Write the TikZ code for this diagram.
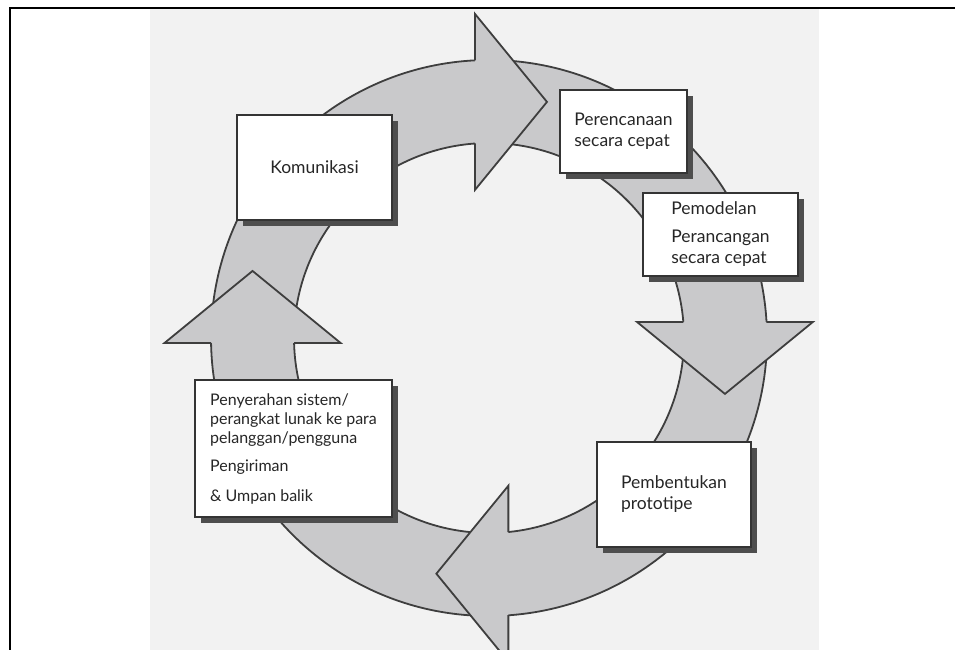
\documentclass[tikz,border=0pt]{standalone}
\usepackage{fontspec}
\setmainfont{Lato}
\usetikzlibrary{calc,shadows}
\definecolor{scangrey}{RGB}{242,242,242}
\definecolor{ringgrey}{RGB}{201,201,203}
\definecolor{ringline}{RGB}{62,62,62}
\definecolor{boxline}{RGB}{52,52,52}
\definecolor{shadegrey}{RGB}{78,78,78}
\definecolor{inkgrey}{RGB}{38,38,38}
\newcommand{\Rout}{278}
\newcommand{\Rin}{195}
\newcommand{\Rmid}{236.5}

\begin{document}
\begin{tikzpicture}[x=1pt,y=1pt,
  ringedge/.style={draw=ringline,line width=1.8pt},
  stage/.style={rectangle,draw=boxline,line width=1.8pt,fill=white,inner sep=0pt,
    align=left,text=inkgrey,font=\fontsize{17.5}{21}\selectfont,
    drop shadow={shadow xshift=6pt,shadow yshift=-6pt,fill=shadegrey,opacity=1}}]
\useasboundingbox (0,0) rectangle (955,650);
% scanned page and frame
\fill[scangrey] (150,0) rectangle (819,641);
\draw[line width=2.5pt] (10,0) -- (10,642) -- (955,642);
%
\coordinate (c) at (489,312);
% ring pieces (start under the previous head)
\foreach \s/\e in {176.2/91.9, 88.4/2.4, -1.1/-86.8, -90.3/-180.3}{
  \fill[ringgrey] ($(c)+(\s:\Rout)$) arc[start angle=\s,end angle=\e,radius=\Rout]
    -- ($(c)+(\e:\Rin)$) arc[start angle=\e,end angle=\s,radius=\Rin] -- cycle;
  \draw[ringedge] ($(c)+(\s:\Rout)$) arc[start angle=\s,end angle=\e,radius=\Rout];
  \draw[ringedge] ($(c)+(\s:\Rin)$) arc[start angle=\s,end angle=\e,radius=\Rin];
}
% arrow heads
\foreach \b/\p in {93.4/90, 3.9/0, -85.3/-90, -178.8/-180}{
  \coordinate (h) at ($(c)+(\b:\Rmid)$);
  \filldraw[ringgrey,ringedge] ($(h)+(\p:41.5)$) -- ($(h)+(\p:88)$)
    -- ($(h)+(\p-90:72)$) -- ($(h)+(\p+180:88)$) -- ($(h)+(\p+180:41.5)$);
}
%
\node (b1) [stage,minimum width=155pt,minimum height=105pt] at (314.5,482.5) {Komunikasi};
\node (b2) [stage,minimum width=127pt,minimum height=83pt] at (623.5,518.5) {Perencanaan\\secara cepat};
\node (b3) [stage,minimum width=155pt,minimum height=83pt] at (720.5,415.5) {Pemodelan\\[7pt]Perancangan\\secara cepat};
\node (b4) [stage,minimum width=154pt,minimum height=105pt] at (674,155.5) {Pembentukan\\prototipe};
\node (b5) [stage,minimum width=197pt,minimum height=137pt,font=\fontsize{16}{19}\selectfont] at (293.5,201.5)
  {Penyerahan sistem/\\perangkat lunak ke para\\pelanggan/pengguna\\[9pt]Pengiriman\\[11pt]\& Umpan balik};
\end{tikzpicture}
\end{document}
